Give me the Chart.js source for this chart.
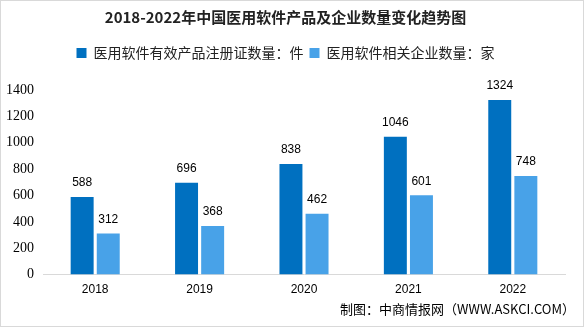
<!DOCTYPE html>
<html>
<head>
<meta charset="utf-8">
<script src="https://cdn.jsdelivr.net/npm/chart.js@4"></script>
<style>
html,body{margin:0;padding:0;background:#fff}
#wrap{width:585px;height:327px;position:relative}
</style>
</head>
<body>
<div id="wrap"><canvas id="c"></canvas></div>
<script>
const YEARS=['2018','2019','2020','2021','2022']
const PRODUCTS=[588,696,838,1046,1324]
const COMPANIES=[312,368,462,601,748]
const Y_TICKS=[0,200,400,600,800,1000,1200,1400]

const sans='"Noto Sans CJK SC","Noto Sans",sans-serif'

// extra room under the legend
const legendGap={id:'legendGap',afterInit(chart){
  const lg=chart.legend,f=lg.fit
  lg.fit=function(){f.call(lg);lg.height+=20}
}}

const labels={id:'labels',afterDatasetsDraw(chart){
  const ctx=chart.ctx
  ctx.save()
  ctx.fillStyle='#000'
  ctx.font='12px "Liberation Sans",Arial,sans-serif'
  ctx.textAlign='center'
  ctx.textBaseline='bottom'
  chart.data.datasets.forEach((ds,i)=>{
    chart.getDatasetMeta(i).data.forEach((b,j)=>{
      ctx.fillText(ds.data[j],b.x,b.y-8)
    })
  })
  ctx.font='13px '+sans
  ctx.textAlign='right'
  ctx.textBaseline='middle'
  ctx.fillText('制图：中商情报网（WWW.ASKCI.COM）',575,309)
  ctx.strokeStyle='#d9d9d9'
  ctx.lineWidth=1
  ctx.strokeRect(0.5,0.5,583,326)
  ctx.restore()
}}

new Chart(document.getElementById('c'),{type:'bar',data:{labels:YEARS,datasets:[
  {label:'医用软件有效产品注册证数量：件',data:PRODUCTS,backgroundColor:'#0070c0',barPercentage:0.88,categoryPercentage:0.5},
  {label:'医用软件相关企业数量：家',data:COMPANIES,backgroundColor:'#48a2e8',barPercentage:0.88,categoryPercentage:0.5},
]},options:{responsive:true,maintainAspectRatio:false,animation:false,
  layout:{padding:{left:6,right:20,top:2,bottom:22}},
  plugins:{
    title:{display:true,text:'2018-2022年中国医用软件产品及企业数量变化趋势图',color:'#222',font:{family:sans,size:15,weight:'bold'},padding:{top:6,bottom:14}},
    legend:{display:true,labels:{color:'#222',font:{family:sans,size:14},boxWidth:10,boxHeight:10,padding:6},onClick:null},
    tooltip:{enabled:false}
  },
  scales:{
    x:{grid:{display:false,drawTicks:false},border:{color:'#d9d9d9'},ticks:{color:'#000',font:{family:'"Liberation Sans",Arial',size:12},padding:8}},
    y:{min:0,max:1400,afterBuildTicks:s=>{s.ticks=Y_TICKS.map(v=>({value:v}))},afterFit:s=>{s.width=37},grid:{display:false,drawTicks:false},border:{display:false},
      ticks:{color:'#000',font:{family:'"Liberation Serif",serif',size:14},padding:9,callback:v=>String(v)}}
  }
},plugins:[legendGap,labels]})
</script>
</body>
</html>
